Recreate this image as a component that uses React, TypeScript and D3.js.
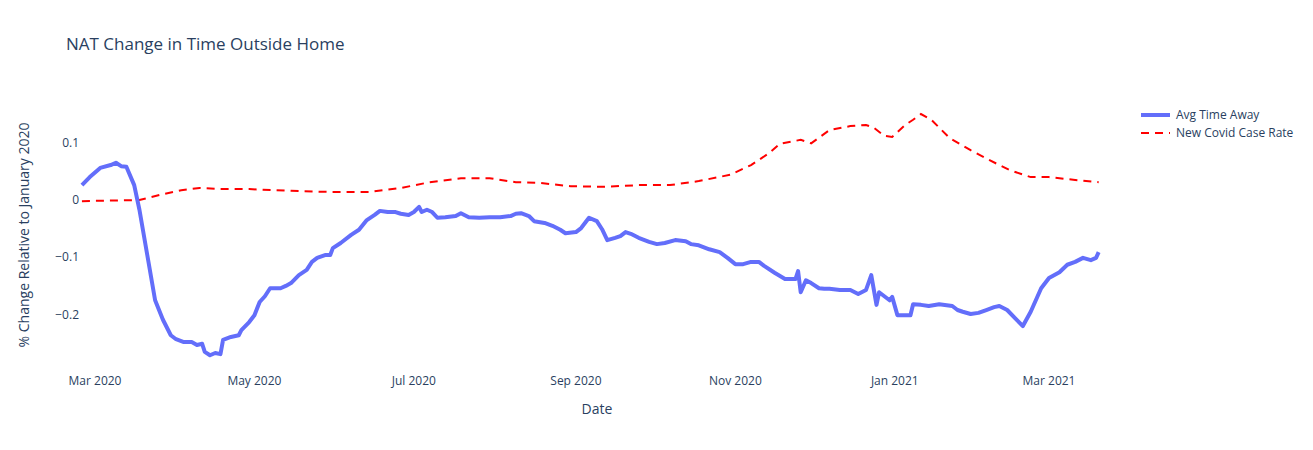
import React from "react";
import * as d3 from "d3";

// day offsets from 2020-03-01
const awayDays = [-5,-2,2,6,8,10,12,15,17,20,23,26,29,31,34,37,39,41,42,44,46,48,49,52,55,56,59,61,63,65,67,71,73,75,78,81,83,85,88,90,91,94,98,101,104,107,109,112,115,117,120,122,124,125,127,129,131,134,138,140,143,147,151,155,159,161,163,166,168,172,175,178,180,184,186,189,192,194,196,199,201,203,205,208,212,215,218,222,226,228,231,235,239,242,245,248,251,254,256,260,264,268,269,270,272,274,277,279,281,285,289,292,295,297,299,300,304,305,307,312,313,316,319,323,328,330,332,335,338,341,344,346,349,352,355,358,362,365,369,372,375,378,381,383,384];
const awayVals = [.026,.040,.056,.061,.065,.059,.058,.026,-.017,-.096,-.175,-.209,-.236,-.243,-.248,-.248,-.253,-.251,-.265,-.271,-.267,-.269,-.244,-.239,-.236,-.227,-.213,-.201,-.178,-.168,-.154,-.154,-.150,-.145,-.131,-.122,-.108,-.101,-.096,-.096,-.084,-.075,-.061,-.052,-.035,-.026,-.019,-.021,-.021,-.024,-.026,-.021,-.012,-.021,-.017,-.021,-.031,-.030,-.028,-.023,-.030,-.031,-.030,-.030,-.028,-.024,-.023,-.028,-.037,-.040,-.045,-.052,-.058,-.056,-.049,-.031,-.037,-.051,-.070,-.066,-.063,-.056,-.059,-.066,-.073,-.077,-.075,-.070,-.072,-.077,-.079,-.086,-.091,-.101,-.112,-.112,-.108,-.108,-.115,-.127,-.138,-.138,-.124,-.161,-.140,-.145,-.154,-.155,-.155,-.157,-.157,-.164,-.157,-.131,-.183,-.161,-.175,-.169,-.201,-.201,-.182,-.183,-.185,-.182,-.185,-.192,-.195,-.199,-.197,-.192,-.187,-.185,-.192,-.206,-.220,-.195,-.154,-.136,-.126,-.113,-.108,-.101,-.105,-.101,-.091];

const caseDays = [-5,17,25,33,40,48,59,75,90,105,117,128,140,151,161,170,182,195,208,220,231,243,251,258,262,270,274,281,289,295,298,302,305,310,313,316,320,327,335,342,350,358,365,375,384];
const caseVals = [-.002,0,.009,.017,.021,.019,.019,.016,.014,.014,.021,.031,.038,.038,.031,.030,.024,.023,.026,.026,.033,.044,.061,.082,.098,.105,.099,.122,.129,.131,.126,.112,.110,.131,.140,.150,.140,.108,.087,.070,.052,.040,.040,.035,.031];

const yTicks = [-0.2, -0.1, 0, 0.1];
const seriesNames = ["Avg Time Away", "New Covid Case Rate"];

const base = new Date(2020, 2, 1);
const toDate = (d: number) => d3.timeDay.offset(base, d);

export default function App() {
  const font = '"Open Sans", verdana, arial, sans-serif';
  const ink = "#2a3f5f";
  const x = d3.scaleTime().domain([base, new Date(2021, 2, 1)]).range([95, 1049]);
  const y = d3.scaleLinear().domain([-0.2, 0.1]).range([314.6, 142.7]);
  const line = d3.line<[number, number]>().x(d => x(toDate(d[0]))).y(d => y(d[1]));
  const away = awayDays.map((d, i) => [d, awayVals[i]] as [number, number]);
  const cases = caseDays.map((d, i) => [d, caseVals[i]] as [number, number]);
  const xTicks = d3.timeMonth.range(base, new Date(2021, 3, 1), 2);
  const fmt = d3.timeFormat("%b %Y");
  return (
    <svg width={1313} height={450} style={{ position: "absolute", left: 0, top: 0, fontFamily: font }}>
      <rect width={1313} height={450} fill="#fff" />
      <text x={66} y={50} fontSize={17} fill={ink}>NAT Change in Time Outside Home</text>
      {xTicks.map(t => (
        <text key={+t} x={x(t)} y={385} fontSize={12} fill={ink} textAnchor="middle">{fmt(t)}</text>
      ))}
      {yTicks.map(t => (
        <text key={t} x={79} y={y(t) + 4} fontSize={12} fill={ink} textAnchor="end">
          {t === 0 ? "0" : d3.format(".1f")(t).replace("-", "\u2212")}
        </text>
      ))}
      <text x={597} y={414} fontSize={14} fill={ink} textAnchor="middle">Date</text>
      <text transform="translate(29,235) rotate(-90)" fontSize={14} fill={ink} textAnchor="middle">
        % Change Relative to January 2020
      </text>
      <path d={line(cases) || ""} fill="none" stroke="red" strokeWidth={2} strokeDasharray="8,6" />
      <path d={line(away) || ""} fill="none" stroke="#636efa" strokeWidth={4} strokeLinejoin="round" />
      <g fontSize={12} fill={ink}>
        <line x1={1141} x2={1170} y1={115} y2={115} stroke="#636efa" strokeWidth={4} />
        <text x={1176} y={119}>{seriesNames[0]}</text>
        <line x1={1141} x2={1170} y1={133} y2={133} stroke="red" strokeWidth={2} strokeDasharray="8,6" />
        <text x={1176} y={137}>{seriesNames[1]}</text>
      </g>
    </svg>
  );
}
